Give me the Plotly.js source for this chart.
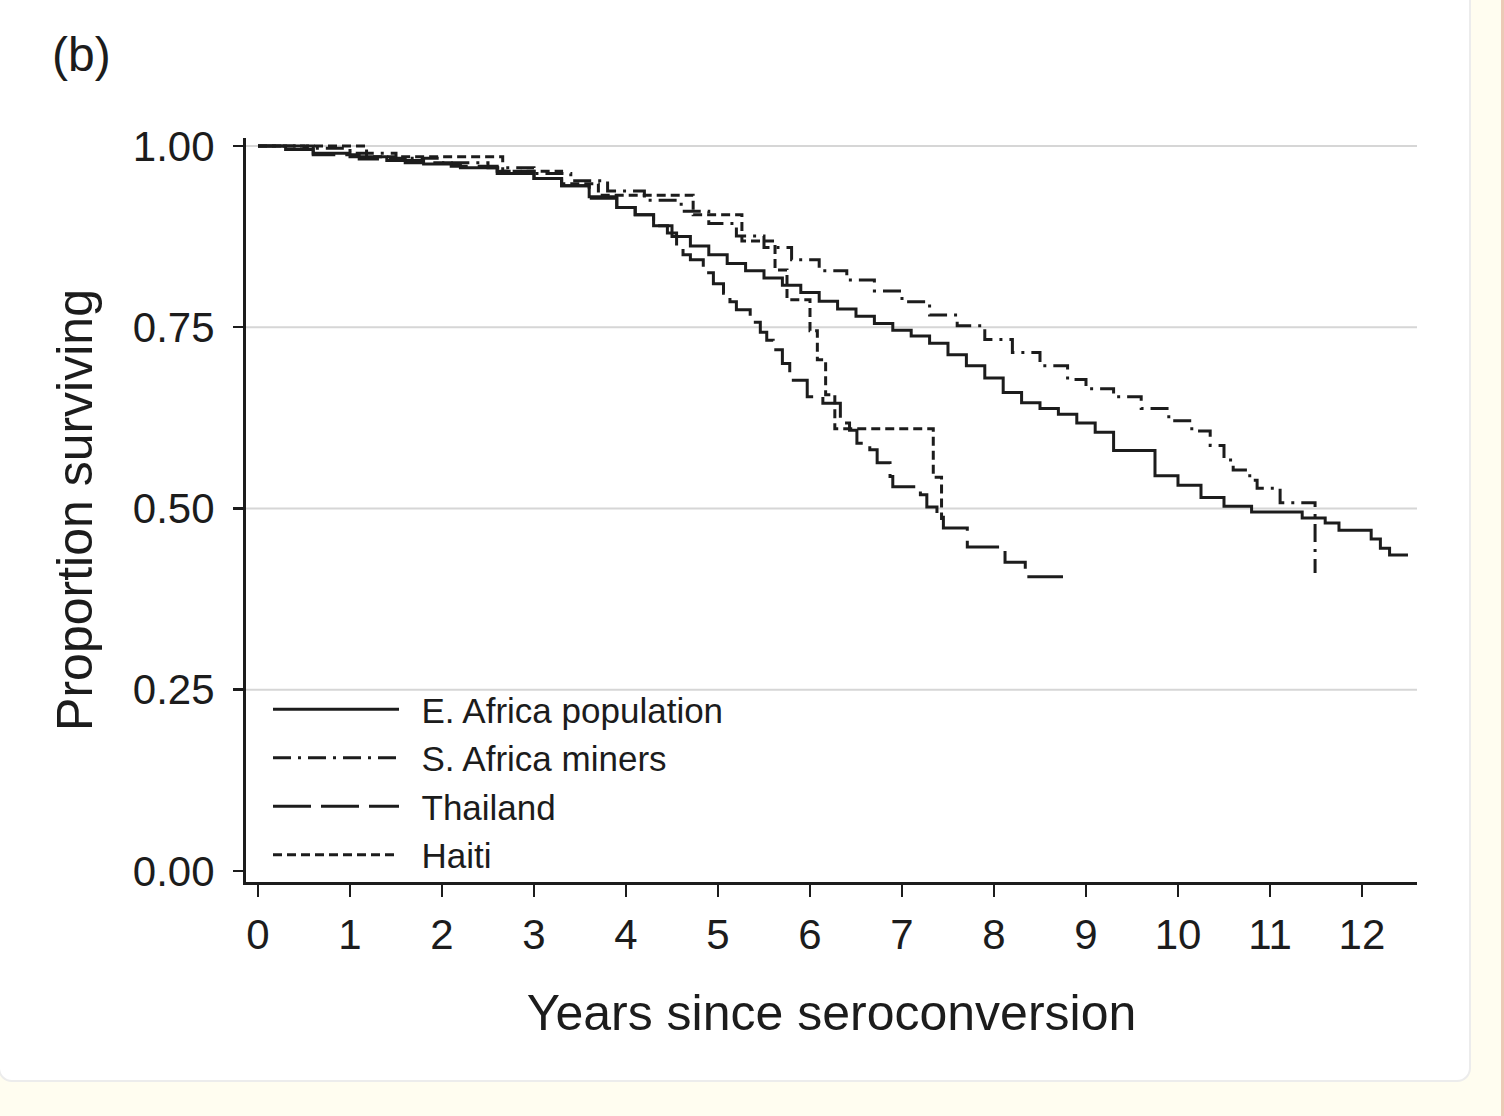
<!DOCTYPE html>
<html>
<head>
<meta charset="utf-8">
<script src="https://cdn.plot.ly/plotly-3.0.1.min.js"></script>
<style>
  html, body { margin:0; padding:0; width:1504px; height:1116px; overflow:hidden; background:#fffdf0; }
  #card { position:absolute; left:-2px; top:-14px; width:1473px; height:1096px; background:#ffffff;
          border:2px solid #ececec; border-radius:14px; box-sizing:border-box; }
  #edge { position:absolute; left:1501px; top:0; width:3px; height:1116px; background:#ecc9b6; }
  #chart { position:absolute; left:0; top:0; width:1504px; height:1116px; }
</style>
</head>
<body>
<div id="card"></div>
<div id="edge"></div>
<div id="chart"></div>
<script>
// ---- Data (Kaplan-Meier step curves) ----
const seriesNames = ["E. Africa population", "S. Africa miners", "Thailand", "Haiti"];

const eAfricaT = [0, 0.3, 0.6, 1.0, 1.4, 1.8, 2.2, 2.6, 3.0, 3.3, 3.6, 3.9, 4.1, 4.3, 4.5, 4.7, 4.9, 5.1, 5.3, 5.5, 5.7, 5.9, 6.1, 6.3, 6.5, 6.7, 6.9, 7.1, 7.3, 7.5, 7.7, 7.9, 8.1, 8.3, 8.5, 8.7, 8.9, 9.1, 9.3, 9.75, 10.0, 10.25, 10.5, 10.8, 11.35, 11.6, 11.75, 12.1, 12.2, 12.3, 12.5];
const eAfricaS = [1.0, 0.995, 0.99, 0.985, 0.98, 0.975, 0.97, 0.962, 0.955, 0.945, 0.93, 0.915, 0.905, 0.89, 0.875, 0.862, 0.85, 0.838, 0.828, 0.818, 0.808, 0.798, 0.786, 0.775, 0.765, 0.755, 0.746, 0.738, 0.728, 0.712, 0.697, 0.68, 0.66, 0.646, 0.638, 0.63, 0.618, 0.605, 0.58, 0.545, 0.532, 0.515, 0.503, 0.495, 0.487, 0.48, 0.47, 0.458, 0.445, 0.436, 0.436];

const sAfricaT = [0, 0.5, 1.0, 1.5, 2.0, 2.5, 3.0, 3.4, 3.8, 4.2, 4.6, 4.9, 5.2, 5.5, 5.8, 6.1, 6.4, 6.7, 7.0, 7.3, 7.6, 7.9, 8.2, 8.5, 8.8, 9.0, 9.3, 9.6, 9.9, 10.15, 10.35, 10.5, 10.6, 10.78, 10.86, 11.11, 11.49];
const sAfricaS = [1.0, 0.997, 0.99, 0.983, 0.977, 0.97, 0.962, 0.952, 0.938, 0.925, 0.91, 0.893, 0.876, 0.86, 0.843, 0.828, 0.815, 0.8, 0.785, 0.767, 0.752, 0.733, 0.715, 0.697, 0.678, 0.665, 0.654, 0.638, 0.621, 0.607, 0.587, 0.567, 0.553, 0.539, 0.528, 0.508, 0.411];

const thailandT = [0, 0.6, 1.1, 1.6, 2.1, 2.6, 3.0, 3.3, 3.6, 3.9, 4.1, 4.3, 4.45, 4.55, 4.62, 4.7, 4.84, 4.95, 5.06, 5.13, 5.2, 5.35, 5.46, 5.53, 5.6, 5.7, 5.78, 5.97, 6.14, 6.33, 6.43, 6.51, 6.65, 6.73, 6.87, 6.9, 7.2, 7.27, 7.38, 7.45, 7.71, 8.12, 8.34, 8.75];
const thailandS = [1.0, 0.988, 0.982, 0.977, 0.972, 0.965, 0.955, 0.945, 0.928, 0.915, 0.905, 0.89, 0.88, 0.862, 0.85, 0.843, 0.825, 0.81, 0.797, 0.785, 0.774, 0.757, 0.743, 0.732, 0.719, 0.7, 0.677, 0.654, 0.645, 0.618, 0.608, 0.59, 0.581, 0.563, 0.544, 0.53, 0.519, 0.502, 0.488, 0.473, 0.447, 0.426, 0.406, 0.406];

const haitiT = [0, 1.18, 2.66, 3.3, 3.7, 4.73, 5.26, 5.62, 5.75, 6.0, 6.08, 6.17, 6.27, 7.34, 7.43];
const haitiS = [1.0, 0.985, 0.965, 0.948, 0.932, 0.905, 0.869, 0.829, 0.788, 0.745, 0.705, 0.657, 0.61, 0.543, 0.484];

const xTickVals = [0,1,2,3,4,5,6,7,8,9,10,11,12];
const yTickVals = [0, 0.25, 0.5, 0.75, 1.0];
const yTickText = ["0.00", "0.25", "0.50", "0.75", "1.00"];
const gridVals = [0.25, 0.5, 0.75, 1.0];

// ---- Styling ----
const ink = "#1c1c1c";
const font = "Liberation Sans, Arial, Helvetica, sans-serif";
const dashes = ["solid", "18px,7px,3px,7px", "38px,10px", "9px,5px"];
const xs = [eAfricaT, sAfricaT, thailandT, haitiT];
const ys = [eAfricaS, sAfricaS, thailandS, haitiS];

const traces = seriesNames.map((n, i) => ({
  type: "scatter", mode: "lines", name: "\u2002" + n,
  x: xs[i], y: ys[i],
  line: { shape: "hv", color: ink, width: 3, dash: dashes[i] },
  hoverinfo: "skip"
}));

const shapes = gridVals.map(v => ({
  type: "line", xref: "paper", x0: 0, x1: 1, yref: "y", y0: v, y1: v,
  line: { color: "#d6d6d6", width: 2 }, layer: "below"
}));

const layout = {
  width: 1504, height: 1116,
  paper_bgcolor: "rgba(0,0,0,0)", plot_bgcolor: "rgba(0,0,0,0)",
  margin: { l: 246, r: 87, t: 138, b: 234 },
  font: { family: font, color: ink },
  title: { text: "(b)", font: { size: 48, family: font, color: ink },
           xref: "container", x: 52/1504, xanchor: "left",
           yref: "container", y: 1 - 54/1116, yanchor: "middle" },
  showlegend: true,
  legend: {
    x: 22/1171, xanchor: "left", y: (882 - 680) / 744, yanchor: "top",
    bgcolor: "rgba(0,0,0,0)", borderwidth: 0,
    font: { size: 35, family: font, color: ink },
    itemwidth: 126, tracegroupgap: 0
  },
  xaxis: {
    range: [-0.1304, 12.598], tickvals: xTickVals,
    showgrid: false, zeroline: false,
    showline: true, linecolor: ink, linewidth: 3,
    ticks: "outside", ticklen: 12, tickwidth: 2.5, tickcolor: ink,
    tickfont: { size: 42, family: font, color: ink },
    ticklabelstandoff: 2,
    title: { text: "Years since seroconversion", font: { size: 50, family: font, color: ink }, standoff: 38 }
  },
  yaxis: {
    range: [-0.01517, 1.011], tickvals: yTickVals, ticktext: yTickText,
    showgrid: false, zeroline: false,
    showline: true, linecolor: ink, linewidth: 3,
    ticks: "outside", ticklen: 10, tickwidth: 2.5, tickcolor: ink,
    tickfont: { size: 42, family: font, color: ink },
    ticklabelstandoff: 10,
    title: { text: "Proportion surviving", font: { size: 50, family: font, color: ink }, standoff: 25 }
  },
  shapes: shapes
};

Plotly.newPlot("chart", traces, layout, { staticPlot: true, displayModeBar: false });
</script>
</body>
</html>
